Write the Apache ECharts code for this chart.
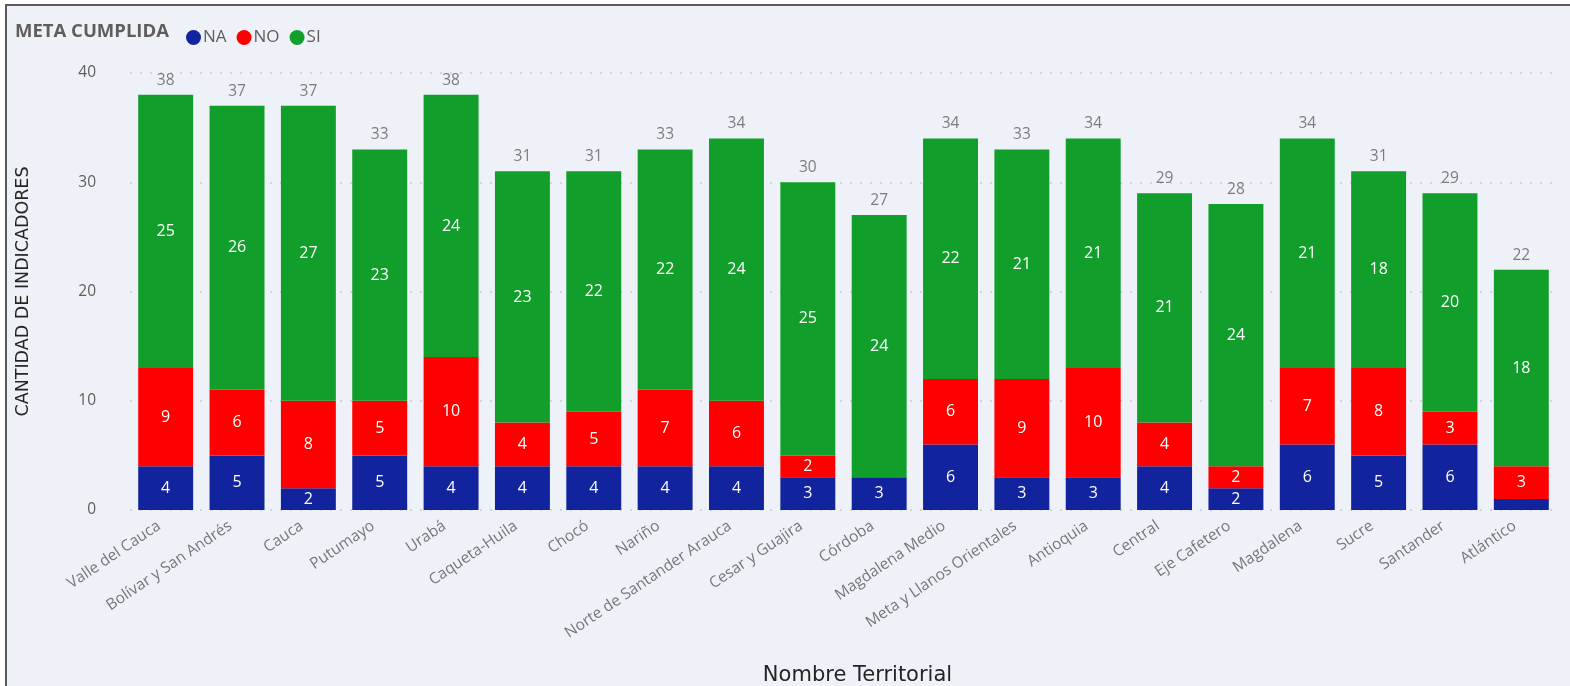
<!DOCTYPE html>
<html><head><meta charset="utf-8">
<script src="https://cdn.jsdelivr.net/npm/echarts@6/dist/echarts.min.js"></script>
<style>
html,body{margin:0;padding:0;background:#fff;width:1570px;height:686px;overflow:hidden;}
#frame{position:absolute;left:5px;top:4px;width:1565px;height:682px;border-top:2px solid #5b5b5b;border-left:2px solid #5b5b5b;background:#eef2f8;box-sizing:border-box;}
#chart{position:absolute;left:0;top:0;width:1570px;height:686px;}
</style></head>
<body>
<div id="frame"></div>
<div id="chart"></div>
<script>
const categories = ["Valle del Cauca","Bolívar y San Andrés","Cauca","Putumayo","Urabá","Caqueta-Huila","Chocó","Nariño","Norte de Santander Arauca","Cesar y Guajira","Córdoba","Magdalena Medio","Meta y Llanos Orientales","Antioquia","Central","Eje Cafetero","Magdalena","Sucre","Santander","Atlántico"];
const naValues = [4,5,2,5,4,4,4,4,4,3,3,6,3,3,4,2,6,5,6,1];
const noValues = [9,6,8,5,10,4,5,7,6,2,0,6,9,10,4,2,7,8,3,3];
const siValues = [25,26,27,23,24,23,22,22,24,25,24,22,21,21,21,24,21,18,20,18];
const yTicks = [0,10,20,30,40];
const totals = categories.map((c,i)=>naValues[i]+noValues[i]+siValues[i]);

const font = "'Segoe UI','Open Sans','Noto Sans',sans-serif";
const titleFont = "'DejaVu Sans','Noto Sans',sans-serif";
const chart = echarts.init(document.getElementById('chart'), null, {renderer:'canvas'});
const inLabel = {show:true, position:'inside', color:'#fff', fontSize:16, fontFamily:font,
  formatter:p=> p.value>=2 ? String(p.value) : ''};
chart.setOption({
  backgroundColor:'transparent',
  animation:false,
  graphic:[{type:'text', left:15, top:22, style:{text:'META CUMPLIDA', fill:'#605e5c', font:"bold 18.5px "+font}}],
  legend:{left:181, top:24, itemWidth:15, itemHeight:15, itemGap:10, icon:'circle',
    textStyle:{color:'#605e5c', fontSize:17, fontFamily:font, padding:[0,0,0,-3]},
    data:['NA','NO','SI']},
  grid:{left:130, right:13, top:73, bottom:176, outerBoundsMode:'none', containLabel:false},
  xAxis:{type:'category', data:categories,
    axisLine:{show:false}, axisTick:{show:false},
    axisLabel:{rotate:34, color:'#777', fontSize:15.5, fontFamily:font, interval:0, margin:10, padding:[0,8,0,0]},
    name:'Nombre Territorial', nameLocation:'middle', nameGap:155,
    nameTextStyle:{color:'#252423', fontSize:21, fontFamily:titleFont, padding:[0,0,0,28]}},
  yAxis:{type:'value', min:yTicks[0], max:yTicks[yTicks.length-1], interval:10,
    axisLine:{show:false}, axisTick:{show:false},
    axisLabel:{color:'#605e5c', fontSize:15.5, fontFamily:font, margin:34},
    splitLine:{lineStyle:{type:[2,8], color:'#c8c8c8', width:1.5}},
    name:'CANTIDAD DE INDICADORES', nameLocation:'middle', nameGap:98,
    nameTextStyle:{color:'#252423', fontSize:17.5, fontFamily:titleFont}},
  series:[
    {name:'NA', type:'bar', stack:'t', data:naValues, barCategoryGap:'23%', itemStyle:{color:'#12239e'}, label:inLabel},
    {name:'NO', type:'bar', stack:'t', data:noValues, itemStyle:{color:'#fe0000'}, label:inLabel},
    {name:'SI', type:'bar', stack:'t', data:siValues, itemStyle:{color:'#119e2a'}, label:inLabel},
    {name:'Total', type:'scatter', data:totals, symbolSize:1, silent:true, z:5,
      itemStyle:{color:'rgba(0,0,0,0)'},
      label:{show:true, position:'top', distance:6, color:'#605e5c', fontSize:15.5, fontFamily:font}}
  ]
});
</script>
</body></html>
